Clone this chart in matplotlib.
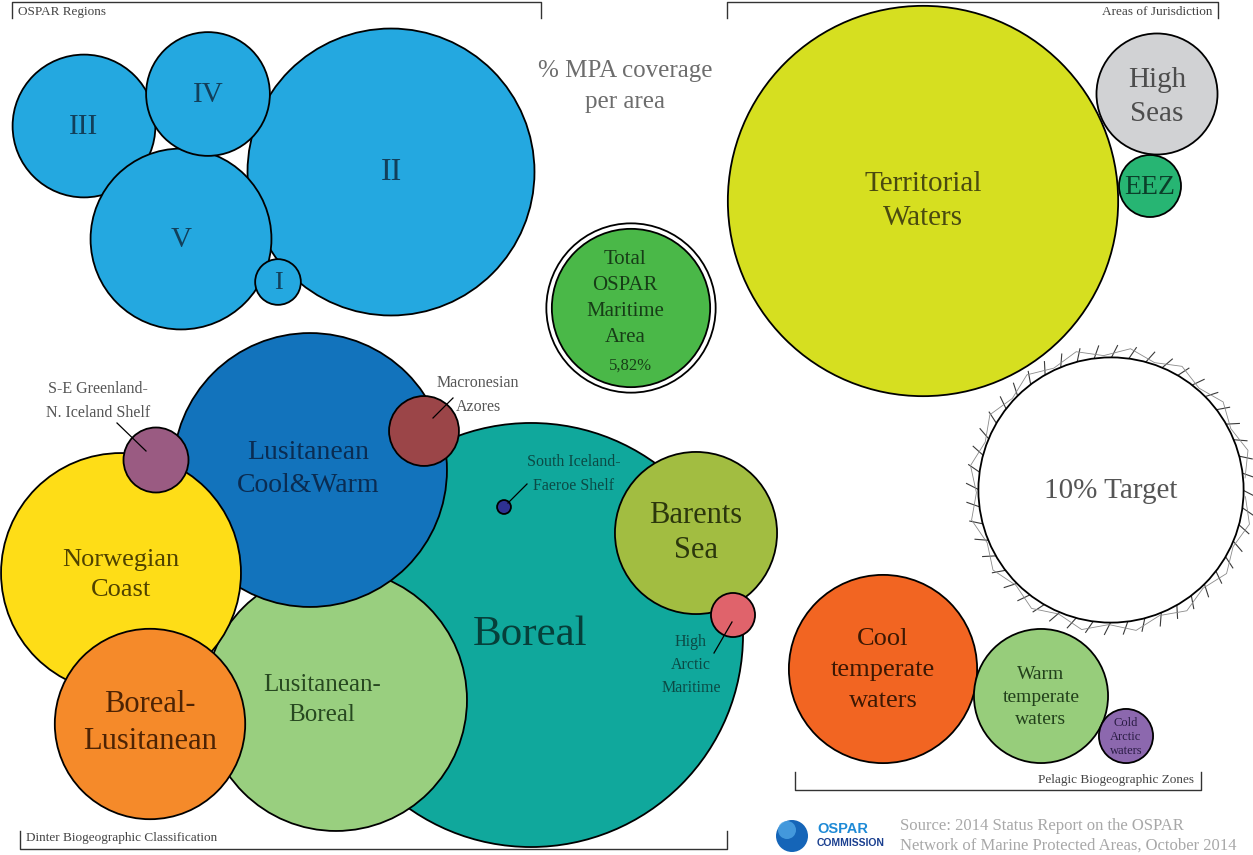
import numpy as np
import matplotlib
matplotlib.use("Agg")
import matplotlib.pyplot as plt
from matplotlib.patches import Circle

# ---------------- data ----------------
# Scale: circle radius (px) = K * coverage value
K = 13.6

# OSPAR regions
region_names = ["II", "III", "V", "IV", "I"]
region_values = [10.55, 5.25, 6.65, 4.55, 1.68]
region_x = [391, 84, 181, 208, 278]
region_y = [172, 126, 239, 94, 282]

# Areas of jurisdiction
jur_names = ["Territorial\nWaters", "High\nSeas", "EEZ"]
jur_values = [14.35, 4.45, 2.28]
jur_x = [923, 1157, 1150]
jur_y = [201, 94, 186]
jur_colors = ["#D6DF20", "#D1D2D4", "#27B573"]
jur_text = ["#4a4a10", "#4d4d4d", "#0b3f2a"]

# Pelagic biogeographic zones
pel_names = ["Cool\ntemperate\nwaters", "Warm\ntemperate\nwaters", "Cold\nArctic\nwaters"]
pel_values = [6.92, 4.93, 1.99]
pel_x = [883, 1041, 1126]
pel_y = [669, 696, 736]
pel_colors = ["#F26522", "#97CD7B", "#8C68AE"]
pel_text = ["#3d1803", "#22401b", "#2a1c44"]

# Dinter biogeographic classification (drawing order)
din_names = ["Boreal", "Lusitanean-\nBoreal", "Lusitanean\nCool&Warm", "Norwegian\nCoast",
             "Boreal-\nLusitanean", "S-E Greenland-\nN. Iceland Shelf", "Macronesian\nAzores",
             "Barents\nSea", "High\nArctic\nMaritime", "South Iceland-\nFaeroe Shelf"]
din_values = [15.59, 9.63, 10.07, 8.82, 7.0, 2.39, 2.57, 5.96, 1.62, 0.51]
din_x = [531, 336, 310, 121, 150, 156, 424, 696, 733, 504]
din_y = [635, 700, 470, 573, 724, 460, 431, 533, 615, 507]
din_colors = ["#10A89C", "#99CF7F", "#1273BC", "#FEDD17", "#F58A2A", "#9A5B82",
              "#9B4548", "#A2BD41", "#E0636B", "#2E3192"]
din_text = ["#063f3a", "#274820", "#0a2c52", "#4f4200", "#4d2304", "#555555",
            "#555555", "#2c370c", "#0b4a45", "#0b4a45"]

total_value = 5.82
target_value = 10.0

# ---------------- figure ----------------
W, H = 1253, 855
fig = plt.figure(figsize=(W / 100, H / 100), dpi=100)
ax = fig.add_axes([0, 0, 1, 1])
ax.set_xlim(0, W)
ax.set_ylim(H, 0)
ax.set_aspect("equal")
ax.axis("off")

SERIF = ["Liberation Serif", "DejaVu Serif"]


def circ(x, y, r, fc, z=1, lw=1.3, ec="black"):
    ax.add_patch(Circle((x, y), r, facecolor=fc, edgecolor=ec, lw=lw, zorder=z))


def label(x, y, s, size, color, z=20, ha="center", va="center", ls=1.0, **kw):
    ax.text(x, y, s, fontsize=size, color=color, ha=ha, va=va, zorder=z,
            family=SERIF, linespacing=ls, **kw)


# OSPAR regions
reg_sizes = {"II": 23, "III": 21, "V": 21, "IV": 21, "I": 19}
for i, (n, v, x, y) in enumerate(zip(region_names, region_values, region_x, region_y)):
    circ(x, y, K * v, "#24A8E0", z=2 + i)
    label(x, y + 1, n, reg_sizes[n], "#123f5a")

# Title
label(625, 71, "% MPA coverage", 18, "#6d6d6d")
label(625, 102, "per area", 18, "#6d6d6d")

# Total OSPAR maritime area
rt = K * total_value
circ(631, 308, rt + 5.5, "white", z=2)
circ(631, 308, rt, "#4AB848", z=3)
label(625, 298, "Total\nOSPAR\nMaritime\nArea", 15, "#173d17", ls=1.5)
label(631, 366, "5,82%", 12, "#173d17")

# Areas of jurisdiction
jsz = [21, 21, 20]
jls = [1.4, 1.4, 1.0]
joff = [0, 3, 2]
for i in range(len(jur_names)):
    circ(jur_x[i], jur_y[i], K * jur_values[i], jur_colors[i], z=2 + i)
    label(jur_x[i], jur_y[i] + joff[i], jur_names[i], jsz[i], jur_text[i], ls=jls[i])

# 10% target
tr = K * target_value * 0.975
tx, ty = 1111, 490
circ(tx, ty, tr, "white", z=3, lw=1.3)
ang = np.deg2rad(np.arange(0, 360, 7.5))
for a in ang:
    r0, r1 = tr - 1, tr + 12
    da = 6.0 / tr
    ax.plot([tx + r0 * np.cos(a), tx + r1 * np.cos(a + da)],
            [ty + r0 * np.sin(a), ty + r1 * np.sin(a + da)],
            color="#3a3a3a", lw=0.8, zorder=2)
zz = np.deg2rad(np.arange(0, 361, 11.0))
zr = np.where(np.arange(len(zz)) % 2 == 0, tr + 2, tr + 10)
ax.plot(tx + zr * np.cos(zz + 0.05), ty + zr * np.sin(zz + 0.05), color="#8a8a8a", lw=0.6, zorder=2)
label(tx, ty + 1, "10% Target", 21, "#555555")

# Pelagic zones
psz = [19, 14, 9]
pls = [1.55, 1.42, 1.2]
for i in range(len(pel_names)):
    circ(pel_x[i], pel_y[i], K * pel_values[i], pel_colors[i], z=2 + i)
    label(pel_x[i], pel_y[i] + 1, pel_names[i], psz[i], pel_text[i], ls=pls[i])

# Dinter
for i in range(len(din_names)):
    circ(din_x[i], din_y[i], K * din_values[i], din_colors[i], z=2 + i)

label(530, 635, din_names[0], 31, din_text[0])
label(322, 700, din_names[1], 18, din_text[1], ls=1.5)
label(308, 469, din_names[2], 20, din_text[2], ls=1.38)
label(121, 575, din_names[3], 19, din_text[3], ls=1.5)
label(150, 723, din_names[4], 22, din_text[4], ls=1.35)
label(696, 533, din_names[7], 22, din_text[7], ls=1.3)

# external / small labels with leader lines
label(98, 401, din_names[5], 11.5, din_text[5], ls=1.6)
ax.plot([117, 146], [423, 451], color="black", lw=0.9, zorder=30)
label(478, 395, din_names[6], 11.5, din_text[6], ls=1.6)
ax.plot([433, 453], [418, 398], color="black", lw=0.9, zorder=30)
label(574, 474, din_names[9], 11.5, din_text[9], ls=1.6)
ax.plot([508, 527], [503, 484], color="black", lw=0.9, zorder=30)
label(691, 665, din_names[8], 11.5, din_text[8], ls=1.6)
ax.plot([732, 714], [622, 653], color="black", lw=0.9, zorder=30)

# Brackets
bk = dict(color="#333333", lw=1.0, zorder=30)
ax.plot([12, 12, 541, 541], [18, 2, 2, 18], **bk)
label(18, 12, "OSPAR Regions", 9.5, "#444444", ha="left")
ax.plot([727, 727, 1218, 1218], [18, 2, 2, 18], **bk)
label(1213, 12, "Areas of Jurisdiction", 9.5, "#444444", ha="right")
ax.plot([20, 20, 727, 727], [831, 849, 849, 831], **bk)
label(26, 838, "Dinter Biogeographic Classification", 9.5, "#444444", ha="left")
ax.plot([795, 795, 1201, 1201], [772, 790, 790, 772], **bk)
label(1194, 780, "Pelagic Biogeographic Zones", 9.5, "#444444", ha="right")

# Logo
ax.add_patch(Circle((792, 836), 16, facecolor="#1565b8", edgecolor="none", zorder=5))
ax.add_patch(Circle((787, 830), 9, facecolor="#4fa6e6", edgecolor="none", zorder=6, alpha=0.8))
ax.text(817, 829, "OSPAR", fontsize=10.5, fontweight="bold", color="#1e8ad6",
        family=["Liberation Sans", "DejaVu Sans"], ha="left", va="center", zorder=7)
ax.text(817, 843, "COMMISSION", fontsize=7.5, fontweight="bold", color="#1a3f8f",
        family=["Liberation Sans", "DejaVu Sans"], ha="left", va="center", zorder=7)
label(900, 826, "Source: 2014 Status Report on the OSPAR", 12, "#a8a8a8", ha="left")
label(900, 846, "Network of Marine Protected Areas, October 2014", 12, "#a8a8a8", ha="left")

fig.savefig("out.png", dpi=100, facecolor="white")
